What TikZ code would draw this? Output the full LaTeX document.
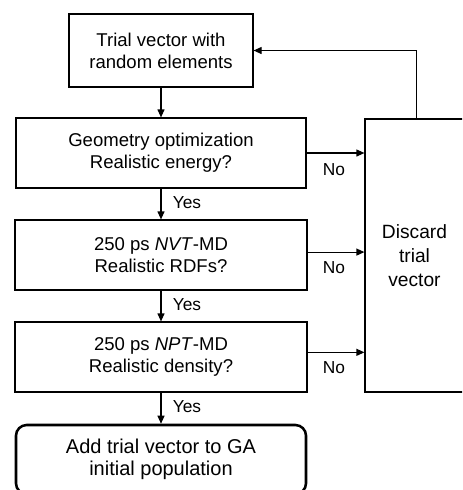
\documentclass[tikz,border=0pt]{standalone}
\usepackage{fontspec}
\setmainfont{Liberation Sans}
\usetikzlibrary{arrows.meta}
\tikzset{
  box/.style={draw, line width=0.85pt, inner sep=0pt, align=center,
    font=\fontsize{13.9}{16.5}\selectfont},
  endbox/.style={draw, line width=1.9pt, rounded corners=8pt, inner sep=0pt, align=center,
    font=\fontsize{15}{16.7}\selectfont},
  discardbox/.style={draw, line width=0.85pt, inner sep=0pt, align=center,
    font=\fontsize{14.4}{18}\selectfont},
  lbl/.style={font=\fontsize{13}{15}\selectfont, inner sep=0pt},
  arr/.style={line width=0.85pt, -{Triangle[length=6pt,width=5.2pt]}}
}
\begin{document}
\begin{tikzpicture}[x=0.75pt, y=-0.75pt]
\clip (0,0) rectangle (462,490);
\fill[white] (0,0) rectangle (462,490);
\node[box, minimum width=138pt, minimum height=54.75pt] (trial) at (161,50.5) {Trial vector with\\random elements};
\node[box, minimum width=217.5pt, minimum height=52.5pt] (geom) at (161,153) {Geometry optimization\\Realistic energy?};
\node[box, minimum width=219pt, minimum height=52.5pt] (nvt) at (161,255) {250 ps \textit{NVT}-MD\\Realistic RDFs?};
\node[box, minimum width=219pt, minimum height=52.5pt] (npt) at (161,357) {250 ps \textit{NPT}-MD\\Realistic density?};
\node[endbox, minimum width=217.5pt, minimum height=51.75pt] (final) at (161,459.5) {Add trial vector to GA\\initial population};
\node[discardbox, minimum width=74.25pt, minimum height=204.75pt] (discard) at (414.5,255.5) {Discard\\trial\\vector};

\draw[arr] (trial.south) -- (geom.north);
\draw[arr] (geom.south) -- (nvt.north);
\draw[arr] (nvt.south) -- (npt.north);
\draw[arr] (npt.south) -- (final.north);

\draw[arr] (geom.east) -- (geom.east -| discard.west);
\path ([yshift=2.2pt]nvt.east) coordinate (nvtno);
\draw[arr] (nvtno) -- (nvtno -| discard.west);
\path ([yshift=3.5pt]npt.east) coordinate (nptno);
\draw[arr] (nptno) -- (nptno -| discard.west);

\draw[arr] ([xshift=1.6pt]discard.north) |- (trial.east);

\node[lbl] (y1) at (187,203) {Yes};
\node[lbl] (y2) at (187,305) {Yes};
\node[lbl] (y3) at (187,407) {Yes};
\node[lbl] (n1) at (334,170) {No};
\node[lbl] (n2) at (334,268) {No};
\node[lbl] (n3) at (334,368) {No};
\end{tikzpicture}
\end{document}
